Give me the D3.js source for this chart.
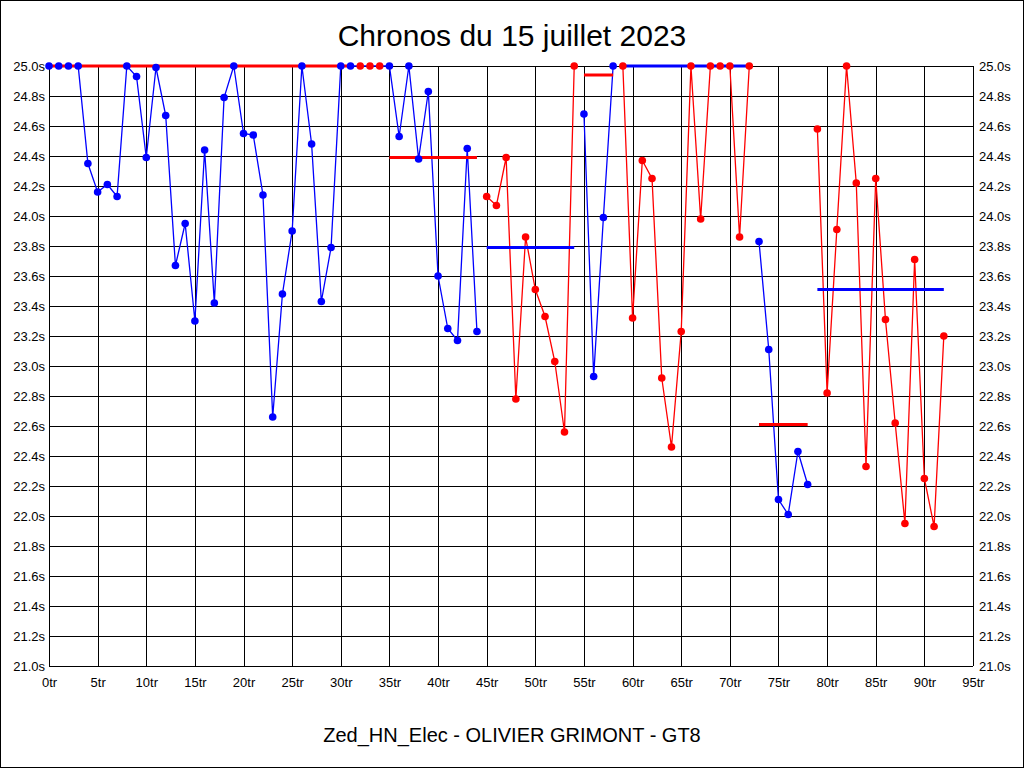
<!DOCTYPE html>
<html>
<head>
<meta charset="utf-8">
<script src="https://cdn.jsdelivr.net/npm/d3@7"></script>
<style>
  body { margin:0; background:#fff; }
  svg { display:block; font-family:"Liberation Sans", Arial, sans-serif; }
</style>
</head>
<body>
<div id="chart"></div>
<script>
// lap times (s), one per tour, 0..92
var lapTimes = [25.0,25.0,25.0,25.0,24.35,24.16,24.21,24.13,25.0,24.93,
  24.39,24.99,24.67,23.67,23.95,23.30,24.44,23.42,24.79,25.0,
  24.55,24.54,24.14,22.66,23.48,23.90,25.0,24.48,23.43,23.79,
  25.0,25.0,25.0,25.0,25.0,25.0,24.53,25.0,24.38,24.83,
  23.60,23.25,23.17,24.45,23.23,24.13,24.07,24.39,22.78,23.86,
  23.51,23.33,23.03,22.56,25.0,24.68,22.93,23.99,25.0,25.0,
  23.32,24.37,24.25,22.92,22.46,23.23,25.0,23.98,25.0,25.0,
  25.0,23.86,25.0,23.83,23.11,22.11,22.01,22.43,22.21,24.58,
  22.82,23.91,25.0,24.22,22.33,24.25,23.31,22.62,21.95,23.71,
  22.25,21.93,23.20]

// runs of connected laps and their colour
var runStart = [0, 45, 55, 59, 73, 79]
var runEnd   = [44, 54, 58, 72, 78, 92]
var runColor = ["blue", "red", "blue", "red", "blue", "red"]

// pit laps marked red
var pitLaps = [32, 33, 34]

// average lines
var avgStart = [0, 35, 45, 55, 59, 73, 79]
var avgEnd   = [31, 44, 54, 58, 72, 78, 92]
var avgValue = [25.0, 24.39, 23.79, 24.94, 25.0, 22.61, 23.51]
var avgColor = ["red", "red", "blue", "red", "blue", "red", "blue"]

var xTicks = d3.range(0, 96, 5)
var yTicks = d3.range(21.0, 25.01, 0.2)

var W = 1024, H = 768
var svg = d3.select("#chart").append("svg").attr("width", W).attr("height", H)

svg.append("rect").attr("x", 0.5).attr("y", 0.5).attr("width", W-1).attr("height", H-1)
  .attr("fill", "#fff").attr("stroke", "#000")

var x = d3.scaleLinear().domain([0, 95]).range([49, 973])
var y = d3.scaleLinear().domain([21, 25]).range([666, 66])

//grid
var grid = svg.append("g").attr("shape-rendering", "crispEdges").attr("stroke", "#000")
grid.selectAll(".vg").data(xTicks).enter().append("line")
  .attr("x1", function(d){return Math.round(x(d))+0.5}).attr("x2", function(d){return Math.round(x(d))+0.5})
  .attr("y1", y(25)).attr("y2", y(21))
grid.selectAll(".hg").data(yTicks).enter().append("line")
  .attr("y1", function(d){return Math.round(y(d))+0.5}).attr("y2", function(d){return Math.round(y(d))+0.5})
  .attr("x1", x(0)).attr("x2", x(95))

// axes labels (left, right, bottom)
var yl = d3.axisLeft(y).tickValues(yTicks).tickSize(0).tickPadding(4).tickFormat(function(d){return d3.format(".1f")(d)+"s"})
var yr = d3.axisRight(y).tickValues(yTicks).tickSize(0).tickPadding(6).tickFormat(function(d){return d3.format(".1f")(d)+"s"})
var xb = d3.axisBottom(x).tickValues(xTicks).tickSize(0).tickPadding(12).tickFormat(function(d){return d+"tr"})

svg.append("g").attr("transform", "translate(" + x(0) + ",0)").call(yl)
svg.append("g").attr("transform", "translate(" + x(95) + ",0)").call(yr)
svg.append("g").attr("transform", "translate(0," + y(21) + ")").call(xb)
svg.selectAll(".domain").remove()
svg.selectAll(".tick text").attr("font-size", 13).attr("fill", "#000")
  .attr("font-family", "'Liberation Sans', Arial, sans-serif")

// series lines
var line = d3.line().x(function(d){return x(d)}).y(function(d){return y(lapTimes[d])})
for (var i = 0; i < runStart.length; i++) {
  svg.append("path").datum(d3.range(runStart[i], runEnd[i]+1))
    .attr("d", line).attr("fill", "none").attr("stroke", runColor[i]).attr("stroke-width", 1.3)
}

// average lines
for (var j = 0; j < avgStart.length; j++) {
  svg.append("line")
    .attr("x1", x(avgStart[j])).attr("x2", x(avgEnd[j]))
    .attr("y1", y(avgValue[j])).attr("y2", y(avgValue[j]))
    .attr("stroke", avgColor[j]).attr("stroke-width", 3)
}

// markers
for (var k = 0; k < runStart.length; k++) {
  svg.append("g").selectAll("circle").data(d3.range(runStart[k], runEnd[k]+1)).enter().append("circle")
    .attr("cx", function(d){return x(d)}).attr("cy", function(d){return y(lapTimes[d])})
    .attr("r", 3.8).attr("fill", function(d){return pitLaps.indexOf(d) >= 0 ? "red" : runColor[k]})
}

svg.append("text").attr("x", 512).attr("y", 46).attr("text-anchor", "middle")
  .attr("font-size", 30).text("Chronos du 15 juillet 2023")
svg.append("text").attr("x", 512).attr("y", 742).attr("text-anchor", "middle")
  .attr("font-size", 20).text("Zed_HN_Elec - OLIVIER GRIMONT - GT8")
</script>
</body>
</html>
